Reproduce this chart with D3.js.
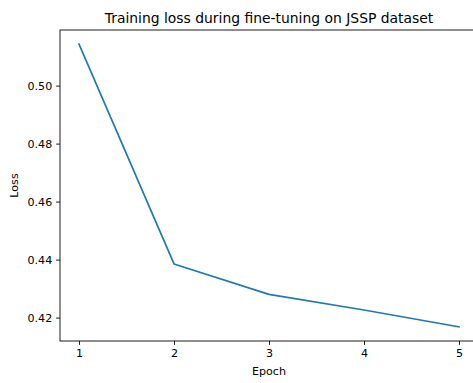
<!DOCTYPE html>
<html lang="en">
<head>
    <meta charset="UTF-8">
    <title>Training loss during fine-tuning on JSSP dataset</title>
    <script src="https://d3js.org/d3.v7.min.js"></script>
    <style>
        body {
            margin: 0;
            background: white;
            overflow: hidden;
        }
        text {
            font-family: "DejaVu Sans", sans-serif;
            fill: black;
        }
    </style>
</head>
<body>
    <svg id="chart" width="473" height="383"></svg>
    <script>
        // data
        const epochs = [1, 2, 3, 4, 5];
        const loss = [0.5143, 0.4385, 0.4280, 0.4226, 0.4168];
        const xTicks = [1, 2, 3, 4, 5];
        const yTicks = [0.42, 0.44, 0.46, 0.48, 0.50];

        const svg = d3.select("#chart");

        // plot area (right edge runs past the window, as in the reference)
        const plotLeft = 60, plotRight = 478, plotTop = 30, plotBottom = 341;

        // matplotlib-style 5% margins
        const xPad = (d3.max(epochs) - d3.min(epochs)) * 0.05;
        const yPad = (d3.max(loss) - d3.min(loss)) * 0.05;

        const x = d3.scaleLinear()
            .domain([d3.min(epochs) - xPad, d3.max(epochs) + xPad])
            .range([plotLeft, plotRight]);

        const y = d3.scaleLinear()
            .domain([d3.min(loss) - yPad, d3.max(loss) + yPad])
            .range([plotBottom, plotTop]);

        // line
        const line = d3.line()
            .x((d, i) => x(epochs[i]))
            .y(d => y(d));

        svg.append("path")
            .datum(loss)
            .attr("d", line)
            .attr("fill", "none")
            .attr("stroke", "#1f77b4")
            .attr("stroke-width", 1.67)
            .attr("stroke-linejoin", "round")
            .attr("stroke-linecap", "square");

        // axes
        const xAxis = svg.append("g")
            .attr("transform", `translate(0,${plotBottom})`)
            .call(d3.axisBottom(x).tickValues(xTicks).tickFormat(d3.format("d"))
                .tickSize(3.9).tickPadding(3.9).tickSizeOuter(0));

        const yAxis = svg.append("g")
            .attr("transform", `translate(${plotLeft},0)`)
            .call(d3.axisLeft(y).tickValues(yTicks).tickFormat(d3.format(".2f"))
                .tickSize(3.9).tickPadding(3.9).tickSizeOuter(0));

        [xAxis, yAxis].forEach(g => {
            g.select(".domain").remove();
            g.selectAll("line").attr("stroke", "black").attr("stroke-width", 0.89);
            g.selectAll("text")
                .style("font-family", "'DejaVu Sans', sans-serif")
                .style("font-size", "11.1px")
                .attr("fill", "black");
        });

        // spines
        svg.append("rect")
            .attr("x", plotLeft)
            .attr("y", plotTop)
            .attr("width", plotRight - plotLeft)
            .attr("height", plotBottom - plotTop)
            .attr("fill", "none")
            .attr("stroke", "black")
            .attr("stroke-width", 0.89);

        // title and labels
        svg.append("text")
            .attr("x", (plotLeft + plotRight) / 2)
            .attr("y", 23)
            .attr("text-anchor", "middle")
            .style("font-size", "13.9px")
            .text("Training loss during fine-tuning on JSSP dataset");

        svg.append("text")
            .attr("x", (plotLeft + plotRight) / 2)
            .attr("y", 375)
            .attr("text-anchor", "middle")
            .style("font-size", "11.1px")
            .text("Epoch");

        svg.append("text")
            .attr("transform", `translate(18,${(plotTop + plotBottom) / 2}) rotate(-90)`)
            .attr("text-anchor", "middle")
            .style("font-size", "11.1px")
            .text("Loss");
    </script>
</body>
</html>
